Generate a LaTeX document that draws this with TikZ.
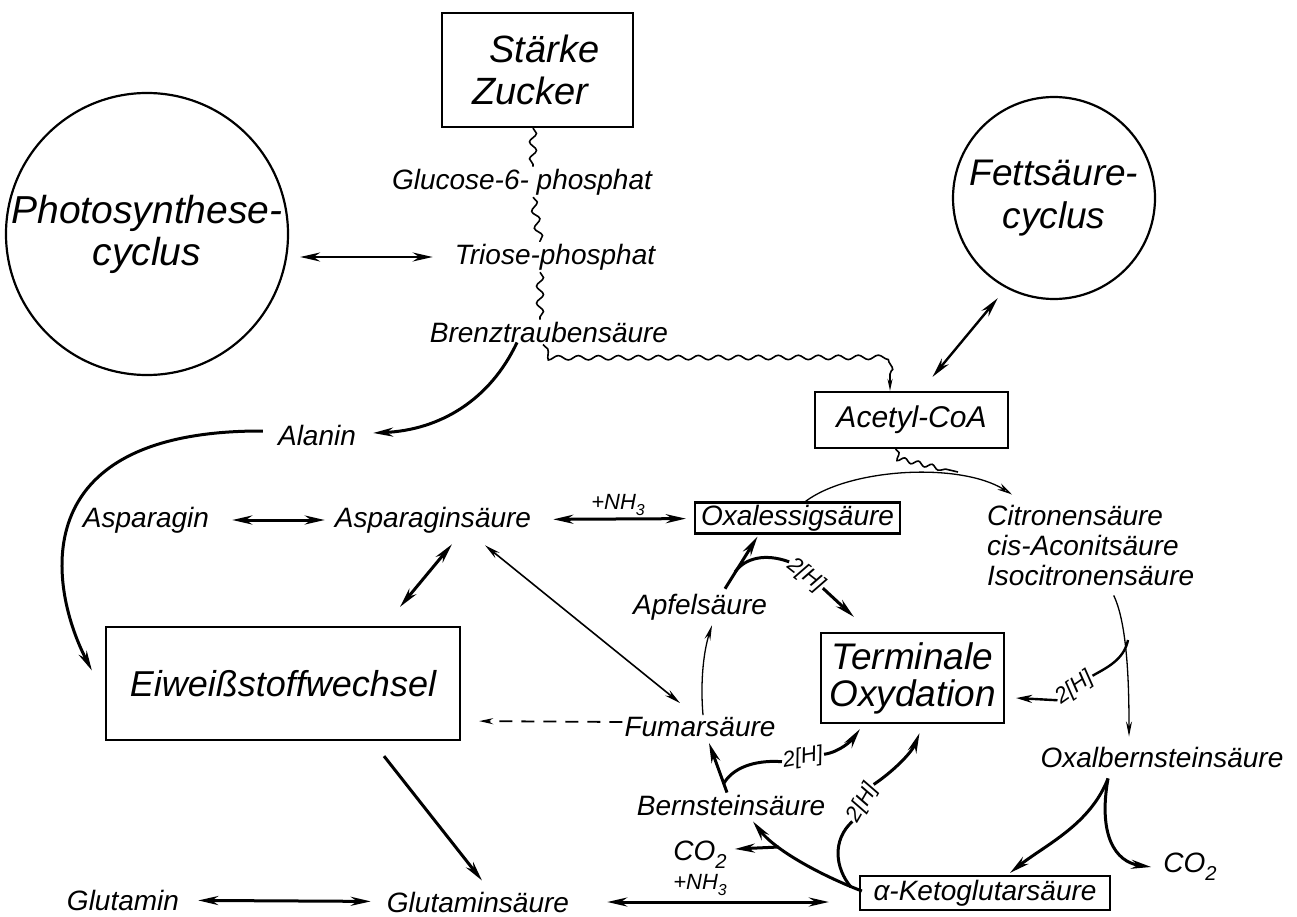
\documentclass[tikz,border=0pt]{standalone}
\usepackage{fontspec}
\setmainfont{Liberation Sans}
\usepackage{graphicx}
\usetikzlibrary{arrows.meta,calc,decorations.pathmorphing}
\newcommand\lowsub[1]{\raisebox{-0.28em}{\scalebox{0.72}{#1}}}
\begin{document}
\begin{tikzpicture}[x=1pt,y=-1pt,
  lab/.style={font=\fontsize{28}{30}\selectfont\itshape, inner sep=2pt},
  small/.style={font=\fontsize{22}{24}\selectfont\itshape, inner sep=1pt},
  box/.style={draw, line width=2.2pt},
  thk/.style={line width=3pt},
  thkarr/.style={thk, -{Stealth[length=20pt,width=9pt]}},
  dblarr/.style={thk, {Stealth[length=20pt,width=9pt]}-{Stealth[length=20pt,width=9pt]}},
  thinarr/.style={line width=1.3pt, -{Stealth[length=15pt,width=6pt]}},
  thindbl/.style={line width=1.6pt, {Stealth[length=16pt,width=7pt]}-{Stealth[length=16pt,width=7pt]}},
  dasharr/.style={line width=1.8pt, dash pattern=on 13pt off 9pt, -{Stealth[length=14pt,width=6pt]}},
  wavy/.style={line width=1.6pt, decorate, decoration={snake, amplitude=3.5pt, segment length=17pt}},
  hwavy/.style={line width=1.6pt, decorate, decoration={snake, amplitude=2.2pt, segment length=20pt}}]
\useasboundingbox (0,0) rectangle (1297,917);

% nodes
\node[box, align=center, minimum width=191pt, minimum height=114pt, font=\fontsize{38}{42}\selectfont\itshape] (sz) at (537.5,70) {\hspace*{14pt}Stärke\\Zucker\hspace*{14pt}};
\node[circle, draw, line width=2.2pt, minimum size=280pt, inner sep=0pt, align=center, font=\fontsize{39}{42}\selectfont\itshape] (psc) at (147,234) {Photosynthese-\\cyclus};
\node[circle, draw, line width=2.2pt, minimum size=202pt, inner sep=0pt, align=center, font=\fontsize{37}{43}\selectfont\itshape] (fsc) at (1054,198) {Fettsäure-\\cyclus};
\node[lab] (gl) at (522,182) {Glucose-6- phosphat};
\node[lab] (tr) at (555,257) {Triose-phosphat};
\node[lab] (br) at (549,332) {Brenztraubensäure};
\node[box, lab, font=\fontsize{30}{32}\selectfont\itshape, minimum width=193pt, minimum height=56pt] (ac) at (911.5,420) {Acetyl-CoA};
\node[lab] (al) at (317,435) {Alanin};
\node[lab] (asn) at (146,520) {Asparagin};
\node[lab] (asp) at (433,520) {Asparaginsäure};
\node[small] (nh3t) at (618,505) {+NH\lowsub{3}};
\node[box, lab, minimum width=205pt, minimum height=31pt, inner sep=1pt] (oxe) at (797.5,518) {Oxalessigsäure};
\node[box, minimum width=354pt, minimum height=113pt, font=\fontsize{36}{40}\selectfont\itshape] (eiw) at (283,683.5) {Eiweißstoffwechsel};
\node[lab] (ap) at (700,607) {Apfelsäure};
\node[lab] (fu) at (700,727) {Fumarsäure};
\node[box, minimum width=183pt, minimum height=90pt, align=center, font=\fontsize{37}{37}\selectfont\itshape] (to) at (912.5,678) {Terminale\\Oxydation};
\node[lab, align=left, anchor=west] (cit) at (985,545) {Citronensäure\\cis-Aconitsäure\\Isocitronensäure};
\node[lab] (oxb) at (1162,757) {Oxalbernsteinsäure};
\node[lab] (co2r) at (1190,867) {CO\lowsub{2}};
\node[box, lab, minimum width=250pt, minimum height=34pt, inner sep=1pt] (ak) at (985,893) {α-Ketoglutarsäure};
\node[lab] (be) at (731,805) {Bernsteinsäure};
\node[lab] (co2l) at (700,855) {CO\lowsub{2}};
\node[small] (nh3b) at (700,885) {+NH\lowsub{3}};
\node[lab] (glm) at (123,900) {Glutamin};
\node[lab] (glu) at (478,902) {Glutaminsäure};
\node[small, rotate=-38] (h1) at (806,575) {2[H]};
\node[small, rotate=35] (h2) at (1075,688) {2[H]};
\node[small, rotate=10] (h3) at (803,758) {2[H]};
\node[small, rotate=60] (h4) at (863,803) {2[H]};

% helper coordinates
\coordinate (w1) at (533,0);
\coordinate (w2) at (540,0);
\coordinate (w3) at (543,0);
\coordinate (wc) at (890,356);
\coordinate (jc) at (958,472);
\coordinate (j1) at (735,572);
\coordinate (j2) at (1128,640);
\coordinate (j3) at ($(oxb.south)+(-54,9)$);
\coordinate (j4) at (779,847);
\coordinate (j5) at (724,783);

% wavy connections
\draw[wavy] (sz.south -| w1) -- (gl.north -| w1);
\draw[wavy] (gl.south -| w1) -- (tr.north -| w2);
\draw[wavy] (tr.south -| w2) -- (br.north -| w2);
\draw[hwavy, decoration={post length=10pt}, -{Stealth[length=12pt,width=5pt]}] (br.south -| w3) -- ++(6,12) -- (wc) -- (ac.north -| wc);
\draw[hwavy, decoration={segment length=14pt, post length=6pt}] ($(ac.south)+(-16,0)$) -- ++(3,9) -- (jc);

% arrows
\draw[dblarr, line width=2.4pt] ($(psc.east)+(11,23)$) -- ($(tr.west)+(-20,0)$);
\draw[dblarr, line width=2.4pt, shorten <=13pt] (fsc.242) -- ($(ac.north)+(21,-14)$);
\draw[thkarr] ($(br.south)+(-32,-2)$) .. controls (490,400) and (440,430) .. ($(al.east)+(15,-2)$);
\draw[thkarr] ($(al.west)+(-13,-4)$) .. controls (20,430) and (50,590) .. ($(eiw.west)+(-13,-13)$);
\draw[dblarr, shorten <=21pt, shorten >=8pt] (asn) -- (asp);
\draw[dblarr, shorten <=20pt, shorten >=8pt] (asp) -- (oxe);
\draw[dblarr] ($(asp.south)+(19,9)$) -- ($(eiw.north)+(117,-19)$);
\draw[thindbl] ($(asp.south)+(52,10)$) -- ($(fu.north)+(-20,-12)$);
\draw[dasharr] ($(fu.west)+(0,-5)$) -- ($(eiw.south east)+(18,-20)$);
\draw[thinarr] ($(fu.north)+(3,0)$) .. controls (700,680) and (704,650) .. ($(ap.south)+(12,3)$);
\draw[thkarr] ($(ap.north)+(25,-3)$) -- ($(oxe.south)+(-40,2)$);
\draw[thk] (j1) .. controls (745,558) and (765,553) .. (h1.west);
\draw[thkarr] (h1.east) -- ($(to.north west)+(34,-15)$);
\draw[line width=1.3pt, -{Stealth[open,length=15pt,width=7pt]}] ($(oxe.north)+(8,0)$) .. controls (850,468) and (960,462) .. ($(cit.north west)+(27,-8)$);
\draw[thinarr] ($(cit.south)+(23,8)$) .. controls (1128,625) and (1129,690) .. ($(oxb.north)+(-33,-8)$);
\draw[line width=2.4pt] (j2) .. controls (1124,660) and (1106,668) .. (h2.east);
\draw[line width=2.4pt, -{Stealth[length=16pt,width=8pt]}] (h2.west) -- ($(to.east)+(11,20)$);
\draw[thkarr] (j3) .. controls (1090,825) and (1045,845) .. ($(ak.north)+(25,-2)$);
\draw[thkarr] (j3) .. controls (1098,835) and (1115,862) .. ($(co2r.west)+(-10,0)$);
\draw[thkarr] ($(ak.west)+(3,-2)$) .. controls (820,875) and (775,850) .. ($(be.south)+(22,4)$);
\draw[thkarr] (j4) -- ($(co2l.east)+(6,-6)$);
\draw[thk] ($(ak.west)+(-8,-6)$) .. controls (835,868) and (832,840) .. (h4.west);
\draw[thkarr] (h4.east) .. controls (895,770) and (912,752) .. ($(to.south)+(7,9)$);
\draw[thkarr] ($(be.north)+(-4,0)$) -- ($(fu.south)+(9,4)$);
\draw[thk] (j5) .. controls (735,765) and (760,760) .. (h3.west);
\draw[thkarr] (h3.east) .. controls (840,752) and (852,740) .. ($(to.south west)+(40,5)$);
\draw[dblarr, shorten <=17pt, shorten >=14pt] (glm) -- (glu);
\draw[dblarr, shorten <=36pt, shorten >=30pt] (glu.east) -- (glu.east -| ak.west);
\draw[thkarr] ($(eiw.south)+(101,15)$) -- ($(glu.north)+(4,-9)$);
\end{tikzpicture}
\end{document}
